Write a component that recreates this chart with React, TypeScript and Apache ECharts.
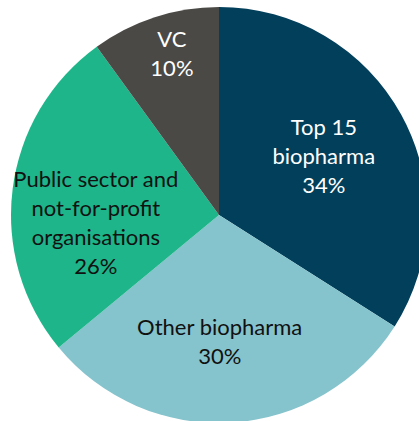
import React, { useEffect, useRef } from "react";
import * as echarts from "echarts";

const categories = ["Top 15\nbiopharma", "Other biopharma", "Public sector and\nnot-for-profit\norganisations", "VC"];
const values = [34, 30, 26, 10];
const colors = ["#023f5b", "#85c3cd", "#1db589", "#4b4946"];
const labelColors = ["#ffffff", "#111111", "#111111", "#ffffff"];
const labelShift = [
  [11, -8],
  [-6, 19],
  [-17, 20],
  [-14, -60],
];

export default function App() {
  const ref = useRef<HTMLDivElement>(null);
  useEffect(() => {
    if (!ref.current) return;
    const chart = echarts.init(ref.current, undefined, { renderer: "svg" });
    chart.setOption({
      animation: false,
      series: [
        {
          type: "pie",
          center: [219, 215],
          radius: 208,
          startAngle: 90,
          clockwise: true,
          silent: true,
          label: {
            show: true,
            position: "inside",
            fontFamily: "Lato",
            fontSize: 22,
            lineHeight: 29,
            align: "center",
            formatter: (p: any) => `${p.name}\n${Math.round(p.percent)}%`,
          },
          labelLine: { show: false },
          labelLayout: (p: any) => ({ dx: labelShift[p.dataIndex][0], dy: labelShift[p.dataIndex][1] }),
          itemStyle: { borderWidth: 0 },
          data: categories.map((name, i) => ({
            name,
            value: values[i],
            itemStyle: { color: colors[i] },
            label: { color: labelColors[i] },
          })),
        },
      ],
    });
    return () => chart.dispose();
  }, []);
  return <div ref={ref} style={{ position: "fixed", left: 0, top: 0, width: 419, height: 421, background: "#fff" }} />;
}
